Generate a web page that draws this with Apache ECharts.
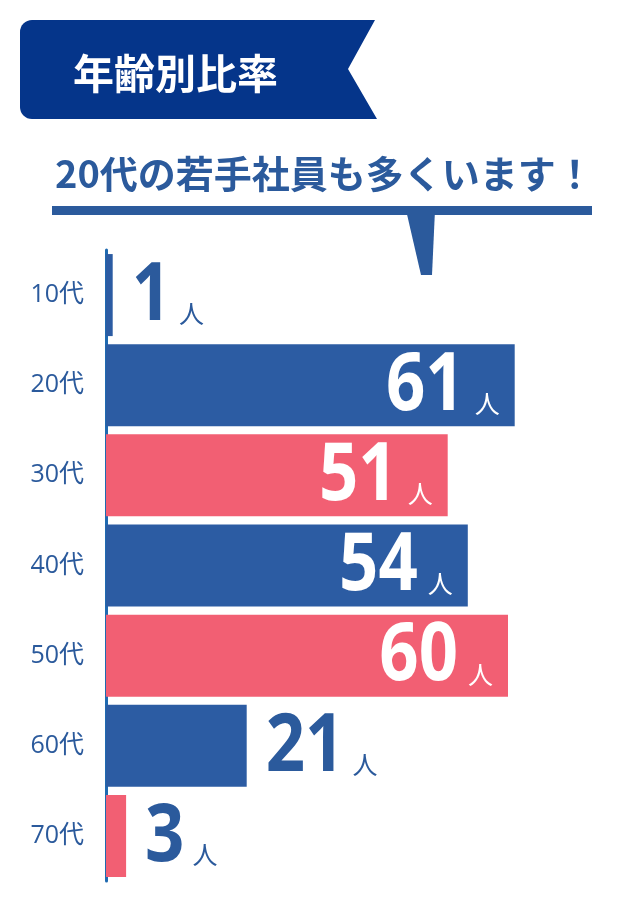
<!DOCTYPE html>
<html>
<head>
<meta charset="utf-8">
<script src="https://cdn.jsdelivr.net/npm/echarts@6/dist/echarts.min.js"></script>
<style>
html,body{margin:0;padding:0;background:#fff;}
#chart{width:636px;height:920px;}
</style>
</head>
<body>
<div id="chart"></div>
<script>
// ---- data ----
const categories = ['10代', '20代', '30代', '40代', '50代', '60代', '70代'];
const values = [1, 61, 51, 54, 60, 21, 3];
const unitLabel = '人';
const titleText = '年齢別比率';
const subtitleText = '20代の若手社員も多くいます！';

// ---- styles ----
const BLUE = '#2c5ca3';
const PINK = '#f25f73';
const TEXT_BLUE = '#2b5a9c';
const NAVY = '#05358a';
const AXIS_BLUE = '#1f6ab0';
const barColors = [BLUE, BLUE, PINK, BLUE, PINK, BLUE, PINK];
const NUM_FONT = "'Noto Sans', sans-serif";
const JP_FONT = "'Noto Sans CJK JP', sans-serif";
const NUM_SIZE = 80;
const NUM_SCALE = 0.86;
const DIGIT_ADV = 0.572;
const UNIT_SIZE = 25;
const INSIDE_MIN = 40;

const chart = echarts.init(document.getElementById('chart'), null, { renderer: 'canvas' });

function renderLabel(params, api) {
  const v = api.value(0);
  const idx = api.value(1);
  const end = api.coord([v, idx]);
  const cy = end[1];
  const inside = v >= INSIDE_MIN;
  const color = inside ? '#ffffff' : TEXT_BLUE;
  const numText = String(v);
  const numW = numText.length * DIGIT_ADV * NUM_SIZE * NUM_SCALE;
  let numX, numAlign, unitX, unitAlign;
  if (inside) {
    unitX = end[0] - 15; unitAlign = 'right';
    numX = unitX - UNIT_SIZE - 10; numAlign = 'right';
  } else {
    numX = end[0] + 19; numAlign = 'left';
    unitX = numX + numW + 8; unitAlign = 'left';
  }
  return {
    type: 'group',
    children: [
      { type: 'text', x: numX, y: cy + 2, scaleX: NUM_SCALE,
        style: { text: numText, fill: color, fontSize: NUM_SIZE, fontWeight: 'bold', fontFamily: NUM_FONT, align: numAlign, verticalAlign: 'middle' } },
      { type: 'text', x: unitX, y: cy + 31,
        style: { text: unitLabel, fill: color, fontSize: UNIT_SIZE, fontFamily: JP_FONT, align: unitAlign, verticalAlign: 'bottom' } }
    ]
  };
}

chart.setOption({
  animation: false,
  backgroundColor: '#ffffff',
  grid: { left: 106, right: 61, top: 250, bottom: 39, containLabel: false },
  xAxis: { type: 'value', min: 0, max: 70, show: false },
  yAxis: {
    type: 'category',
    data: categories,
    inverse: true,
    axisLine: { show: true, lineStyle: { color: AXIS_BLUE, width: 3 } },
    axisTick: { show: false },
    axisLabel: { color: TEXT_BLUE, fontSize: 25, fontFamily: "'Open Sans', 'Noto Sans CJK JP', sans-serif", margin: 22 }
  },
  series: [{
    type: 'bar',
    data: values.map((v, i) => ({ value: v, itemStyle: { color: barColors[i] } })),
    barCategoryGap: '9%',
    z: 1
  }, {
    type: 'custom',
    data: values.map((v, i) => [v, i]),
    encode: { x: 0, y: 1 },
    renderItem: renderLabel,
    z: 3
  }],
  graphic: [
    { type: 'rect', shape: { x: 20, y: 20, width: 60, height: 99, r: 12 }, style: { fill: NAVY } },
    { type: 'polygon', shape: { points: [[40, 20], [375, 20], [348, 69], [377, 119], [40, 119]] }, style: { fill: NAVY } },
    { type: 'text', x: 73, y: 73, style: { text: titleText, fill: '#ffffff', fontSize: 41, fontWeight: 'bold', fontFamily: JP_FONT, verticalAlign: 'middle', align: 'left' } },
    { type: 'text', x: 55, y: 174, style: { text: subtitleText, fill: TEXT_BLUE, fontSize: 38, fontWeight: 'bold', fontFamily: JP_FONT, verticalAlign: 'middle', align: 'left' } },
    { type: 'rect', shape: { x: 52, y: 206, width: 540, height: 9 }, style: { fill: TEXT_BLUE } },
    { type: 'polygon', shape: { points: [[406, 210], [435, 210], [432, 275], [421, 275]] }, style: { fill: TEXT_BLUE } }
  ]
});
</script>
</body>
</html>
